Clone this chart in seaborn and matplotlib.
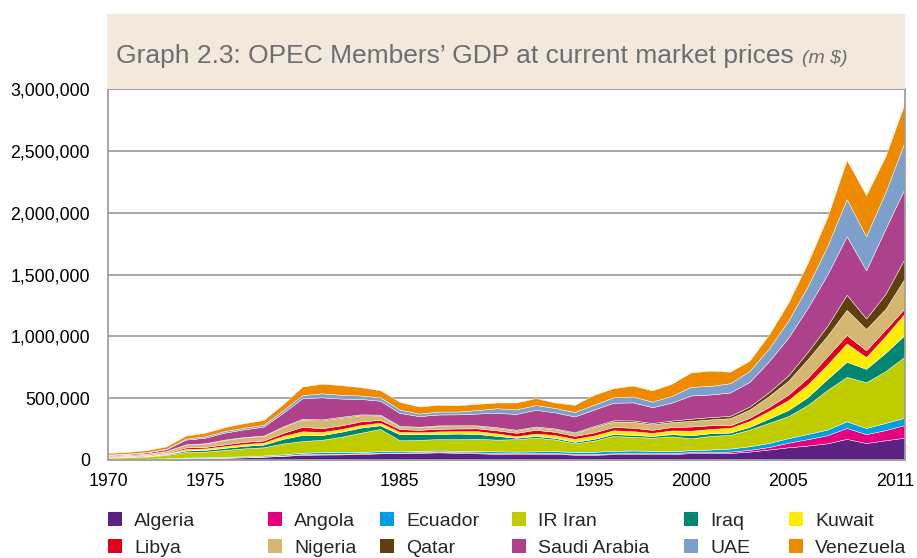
import numpy as np
import pandas as pd
import matplotlib
matplotlib.use("Agg")
import matplotlib.pyplot as plt
import matplotlib.ticker as mticker
import matplotlib.transforms as mtransforms
from matplotlib.patches import Rectangle, Patch
import seaborn as sns

# GDP at current market prices, m $ (in thousands of m $)
years = list(range(1970, 2012))
countries = ["Algeria", "Angola", "Ecuador", "IR Iran", "Iraq", "Kuwait",
             "Libya", "Nigeria", "Qatar", "Saudi Arabia", "UAE", "Venezuela"]

algeria = [4.9, 5.1, 6.8, 8.7, 13.2, 15.6, 17.8, 21.0, 26.4, 33.2, 42.3, 44.3, 45.2, 48.8,
           54, 55, 58, 62, 58, 54, 50, 46, 48, 50, 43, 42, 47, 48, 48, 49, 55, 55, 57, 68,
           85, 103, 117, 135, 171, 137, 160, 181]
angola = [1.5, 1.6, 1.8, 2.1, 2.3, 2.0, 2.2, 2.5, 2.7, 3.0, 5.0, 5.0, 5.0, 5.2,
          5.5, 5, 5, 6, 6, 7, 8, 9, 8, 6, 5, 6, 7, 8, 6, 6, 9, 9, 11, 14,
          20, 37, 52, 65, 88, 72, 82, 103]
ecuador = [1.7, 1.7, 1.9, 2.6, 3.8, 4.3, 5.3, 6.7, 7.7, 9.6, 11.7, 13.9, 13.4, 11.4,
           11.5, 10, 10, 9, 10, 10, 12, 13, 14, 15, 17, 19, 20, 21, 21, 16, 16, 21, 25, 29,
           33, 37, 42, 46, 54, 50, 58, 59]
iran = [10.6, 13.1, 16.5, 27.6, 45.7, 46, 56, 64, 66, 87.9, 94.4, 100.2, 124.1, 154.9,
        180, 90, 90, 92, 95, 100, 95, 100, 110, 95, 70, 90, 120, 110, 105, 120, 95, 110, 110, 135,
        162, 178, 234, 320, 359, 370, 419, 495]
iraq = [3.6, 4.0, 4.4, 5.3, 11.5, 13.9, 17.0, 20, 22, 37, 50, 38, 41, 42,
        30, 49, 45, 42, 45, 40, 30, 12, 14, 12, 12, 14, 15, 16, 14, 18, 25, 22, 19, 22,
        36, 50, 65, 89, 122, 108, 149, 176]
kuwait = [2.9, 3.5, 4.0, 6.0, 12.5, 12.0, 13.3, 15.1, 16, 24, 28.6, 25, 21.6, 20.9,
          20, 19, 16, 20, 19, 22, 20, 12, 20, 23, 24, 27, 31, 30, 25, 30, 37, 34, 38, 47,
          60, 80, 101, 115, 149, 95, 135, 175]
libya = [3.5, 4.2, 4.6, 6.4, 12.5, 11.9, 15.0, 17.5, 17, 24, 36.3, 30.5, 30, 29,
         24, 22, 20, 22, 22, 23, 25, 28, 30, 27, 24, 25, 27, 28, 25, 28, 34, 30, 20, 26,
         33, 44, 55, 68, 68, 55, 54, 41]
nigeria = [8.5, 9.5, 11.0, 13.5, 23.5, 27.8, 36.0, 36, 36.5, 47, 58, 64, 62, 50,
           35, 20, 20, 22, 20, 18, 18, 18, 20, 20, 22, 44, 45, 48, 45, 40, 45, 48, 58, 67,
           88, 112, 150, 166, 203, 172, 166, 243]
qatar = [0.3, 0.4, 0.5, 0.8, 2.0, 2.0, 2.5, 3.0, 3.5, 5.6, 7.8, 8, 7.6, 6.7,
         7, 6, 5, 5, 6, 6, 7, 7, 7, 7, 7, 8, 9, 11, 10, 12, 18, 18, 19, 24,
         32, 44, 60, 80, 122, 85, 122, 162]
saudi = [5.4, 7.2, 10.6, 15.0, 37.8, 45, 56, 62, 72, 110, 165, 178, 147, 125,
         112, 105, 86, 88, 88, 96, 116, 128, 135, 130, 128, 133, 142, 146, 128, 145, 188, 183, 189, 200,
         250, 305, 356, 415, 473, 390, 527, 568]
uae = [1.0, 1.3, 1.8, 3.0, 8.0, 11.5, 13.5, 14, 14.5, 21, 26, 32, 30, 28,
       28, 27, 20, 24, 23, 28, 38, 36, 38, 36, 36, 39, 44, 48, 45, 55, 70, 69, 75, 88,
       104, 138, 175, 230, 300, 275, 297, 378]
venezuela = [13.1, 13.5, 16, 19.0, 24.2, 29, 31, 35.9, 39.5, 48.6, 69.2, 77.9, 78.4, 67,
             58, 62, 58, 54, 51, 50, 46, 56, 56, 44, 58, 80, 74, 88, 91, 98, 117, 123, 93, 83,
             112, 145, 190, 233, 318, 332, 290, 312]

colors = ["#5B2281", "#E5007E", "#009FE3", "#BFCC00", "#008671", "#FFED00",
          "#E2001A", "#D6B772", "#5F3F0E", "#AE418C", "#7BA0CC", "#EE8A00"]

df = pd.DataFrame({"Algeria": algeria, "Angola": angola, "Ecuador": ecuador,
                   "IR Iran": iran, "Iraq": iraq, "Kuwait": kuwait, "Libya": libya,
                   "Nigeria": nigeria, "Qatar": qatar, "Saudi Arabia": saudi,
                   "UAE": uae, "Venezuela": venezuela}, index=years) * 1000

sns.set_theme(style="white")
plt.rcParams['font.family'] = ['Liberation Sans', 'DejaVu Sans']

W, H = 917, 558
fig = plt.figure(figsize=(W / 100, H / 100), dpi=100)
ax = fig.add_axes([108 / W, (H - 460) / H, 797 / W, 371 / H])

# beige title band
fig.patches.append(Rectangle((107 / W, (H - 89) / H), 798 / W, 75 / H,
                             transform=fig.transFigure, facecolor="#F2E8DB",
                             edgecolor="none", zorder=0))
title = fig.text(116 / W, (H - 63) / H,
                 "Graph 2.3: OPEC Members\u2019 GDP at current market prices",
                 fontsize=20, color="#6D6E71", va="baseline", ha="left")
fig.canvas.draw()
r = fig.canvas.get_renderer()
bb = title.get_window_extent(r)
title.set_fontsize(20 * 677 / bb.width)
fig.canvas.draw()
bb = title.get_window_extent(r)
fig.text((bb.x1 + 8) / W, (H - 63) / H, "(m $)", fontsize=14, color="#6D6E71",
         style="italic", va="baseline", ha="left")

ax.stackplot(df.index, [df[c].values for c in countries], colors=colors,
             linewidth=0.3, edgecolor="white", zorder=2)

ax.set_xlim(1970, 2011)
ax.set_ylim(0, 3000000)
ax.set_yticks(np.arange(0, 3000001, 500000))
ax.yaxis.set_major_formatter(mticker.FuncFormatter(lambda v, p: f"{int(v):,}"))
ax.set_xticks([1970, 1975, 1980, 1985, 1990, 1995, 2000, 2005, 2011])
ax.grid(axis="y", color="#A0A0A0", linewidth=1.3, zorder=1)
ax.set_axisbelow(True)
ax.tick_params(axis="both", labelsize=12.8, colors="black", length=0)
ax.tick_params(axis="y", pad=13)
ax.tick_params(axis="x", pad=9)
lab = ax.get_xticklabels()[-1]
lab.set_transform(lab.get_transform() +
                  mtransforms.ScaledTranslation(-0.1, 0, fig.dpi_scale_trans))

for s in ["left", "bottom", "right", "top"]:
    ax.spines[s].set_color("#A0A0A0")
    ax.spines[s].set_linewidth(1.3)

# legend: one small legend per column, two rows each
col_x = [108, 268, 380, 512, 684, 789]
for j, x in enumerate(col_x):
    idx = [j, j + 6]
    hs = [Patch(facecolor=colors[i], edgecolor="none") for i in idx]
    leg = fig.legend(hs, [countries[i] for i in idx], loc="upper left",
                     bbox_to_anchor=(x / W, (H - 512) / H), frameon=False,
                     fontsize=14, handlelength=0.72, handleheight=0.72,
                     handletextpad=0.62, labelspacing=0.5,
                     borderpad=0, borderaxespad=0)

fig.savefig("out.png", dpi=100)
